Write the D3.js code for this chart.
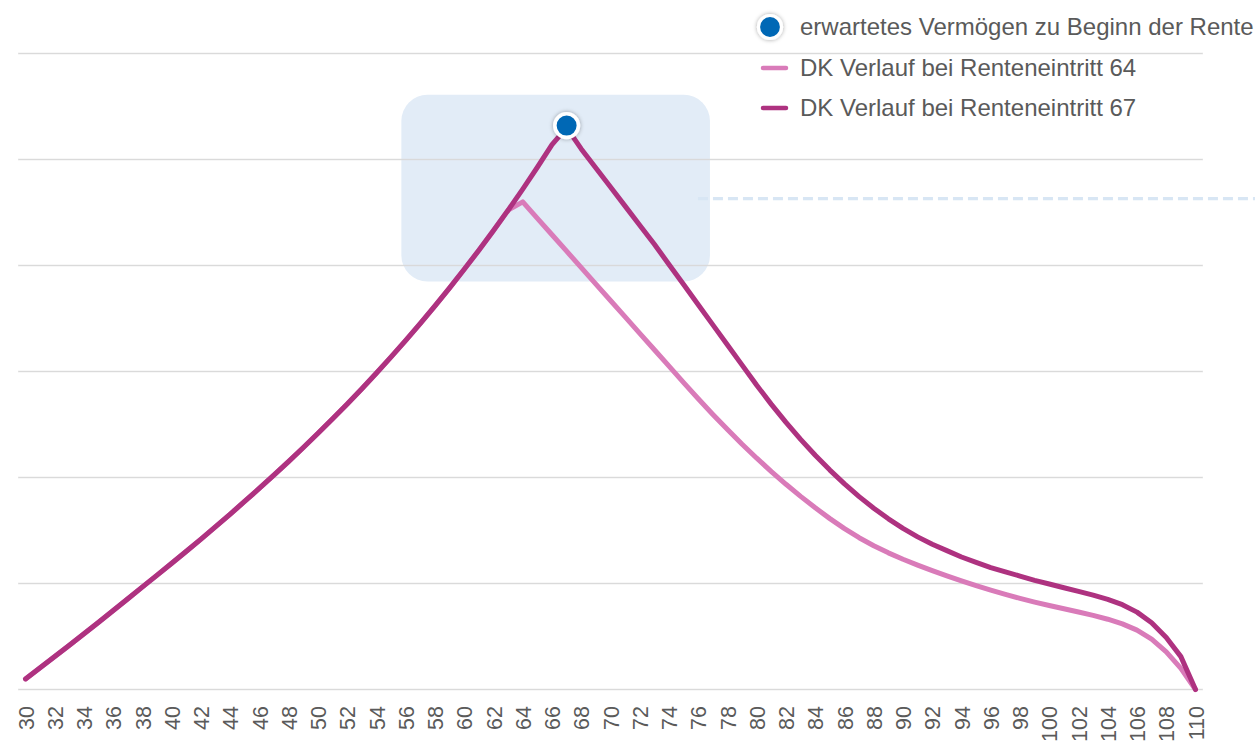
<!DOCTYPE html>
<html>
<head>
<meta charset="utf-8">
<script src="https://cdn.jsdelivr.net/npm/d3@7"></script>
<style>
  html, body { margin: 0; padding: 0; background: #ffffff; }
  svg { display: block; font-family: "Liberation Sans", Arial, sans-serif; }
</style>
</head>
<body>
<svg id="chart" width="1255" height="744"></svg>
<script>
// ---- data ----
const ages = d3.range(30, 111); // 30 .. 110
const xTickLabels = d3.range(30, 111, 2).map(String);
const gridValues = [0, 1, 2, 3, 4, 5, 6];

// DK Verlauf bei Renteneintritt 67 (values in gridline units)
const verlauf67 = [
  0.100, 0.205, 0.311, 0.418, 0.526, 0.635, 0.745, 0.856, 0.968, 1.079, // 30-39
  1.191, 1.304, 1.419, 1.536, 1.655, 1.776, 1.899, 2.024, 2.152, 2.283, // 40-49
  2.417, 2.554, 2.694, 2.838, 2.986, 3.138, 3.294, 3.454, 3.619, 3.789, // 50-59
  3.964, 4.144, 4.330, 4.522, 4.721, 4.927, 5.140, 5.300, 5.100, 4.920, // 60-69
  4.740, 4.560, 4.380, 4.200, 4.010, 3.820, 3.630, 3.440, 3.250, 3.060, // 70-79
  2.870, 2.690, 2.520, 2.360, 2.210, 2.070, 1.940, 1.820, 1.710, 1.610, // 80-89
  1.520, 1.440, 1.370, 1.310, 1.250, 1.200, 1.150, 1.110, 1.070, 1.030, // 90-99
  0.995, 0.960, 0.925, 0.890, 0.850, 0.800, 0.730, 0.630, 0.490, 0.310, // 100-109
  0.000                                                                // 110
];

// DK Verlauf bei Renteneintritt 64
const verlauf64 = [
  0.100, 0.205, 0.311, 0.418, 0.526, 0.635, 0.745, 0.856, 0.968, 1.079, // 30-39
  1.191, 1.304, 1.419, 1.536, 1.655, 1.776, 1.899, 2.024, 2.152, 2.283, // 40-49
  2.417, 2.554, 2.694, 2.838, 2.986, 3.138, 3.294, 3.454, 3.619, 3.789, // 50-59
  3.964, 4.144, 4.330, 4.522, 4.600, 4.445, 4.290, 4.135, 3.980, 3.825, // 60-69
  3.670, 3.515, 3.360, 3.205, 3.050, 2.895, 2.743, 2.595, 2.452, 2.314, // 70-79
  2.182, 2.056, 1.936, 1.822, 1.714, 1.612, 1.518, 1.432, 1.356, 1.289, // 80-89
  1.229, 1.174, 1.122, 1.072, 1.024, 0.979, 0.937, 0.897, 0.860, 0.825, // 90-99
  0.793, 0.762, 0.731, 0.699, 0.663, 0.619, 0.560, 0.475, 0.355, 0.200, // 100-109
  0.000                                                                // 110
];

// expected wealth at start of retirement (peak of 67 curve)
const markerAge = [67];
const markerValue = [5.32];

// highlight annotation box, in data units
const highlightAges = [55.7, 76.8];
const highlightValues = [3.85, 5.61];
const dashValue = [4.63];

const legendLabels = [
  "erwartetes Vermögen zu Beginn der Rente",
  "DK Verlauf bei Renteneintritt 64",
  "DK Verlauf bei Renteneintritt 67"
];

// ---- styles ----
const colorDark = "#ae3280";
const colorLight = "#d97bb9";
const colorDot = "#0068b5";
const colorGrid = "#d9d9d9";
const colorText = "#5a5a5a";
const colorBox = "#e2ecf7";

// ---- scales ----
const svg = d3.select("#chart");
const x = d3.scaleLinear().domain([30, 110]).range([25.5, 1195.5]);
const y = d3.scaleLinear().domain([0, 6]).range([689.5, 53.5]);

const defs = svg.append("defs");
const f = defs.append("filter").attr("id", "shadow")
  .attr("x", "-50%").attr("y", "-50%").attr("width", "200%").attr("height", "200%");
f.append("feDropShadow").attr("dx", 0).attr("dy", 0).attr("stdDeviation", 2.2)
  .attr("flood-color", "#000").attr("flood-opacity", 0.35);

// highlight box
svg.append("rect")
  .attr("x", x(highlightAges[0]))
  .attr("y", y(highlightValues[1]))
  .attr("width", x(highlightAges[1]) - x(highlightAges[0]))
  .attr("height", y(highlightValues[0]) - y(highlightValues[1]))
  .attr("rx", 26).attr("ry", 26)
  .attr("fill", colorBox);

// dashed connector
svg.append("line")
  .attr("x1", x(highlightAges[1]) - 12).attr("x2", 1262)
  .attr("y1", y(dashValue[0])).attr("y2", y(dashValue[0]))
  .attr("stroke", "#d8e6f4").attr("stroke-width", 3.2)
  .attr("stroke-dasharray", "10 5");

// gridlines
svg.append("g").selectAll("line").data(gridValues).join("line")
  .attr("x1", x(29.5)).attr("x2", x(110.5))
  .attr("y1", d => y(d)).attr("y2", d => y(d))
  .attr("stroke", colorGrid).attr("stroke-width", 1.5)
  .attr("opacity", 0.95);

// x axis labels
const xAxis = d3.axisBottom(x)
  .tickValues(xTickLabels.map(Number))
  .tickFormat(d => String(d))
  .tickSize(0);
const gx = svg.append("g").call(xAxis);
gx.select(".domain").remove();
gx.selectAll(".tick text")
  .attr("x", 0).attr("y", 0)
  .attr("transform", "translate(0,706) rotate(-90)")
  .attr("text-anchor", "end")
  .attr("dy", "0.35em")
  .attr("font-size", 21.5)
  .attr("font-family", "'Liberation Sans', Arial, sans-serif")
  .attr("fill", colorText);

// lines
const line = d3.line()
  .x((d, i) => x(ages[i]))
  .y(d => y(d))
  .curve(d3.curveLinear);

svg.append("path").datum(verlauf64)
  .attr("d", line)
  .attr("fill", "none").attr("stroke", colorLight)
  .attr("stroke-width", 5).attr("stroke-linejoin", "round").attr("stroke-linecap", "round");

svg.append("path").datum(verlauf67)
  .attr("d", line)
  .attr("fill", "none").attr("stroke", colorDark)
  .attr("stroke-width", 5).attr("stroke-linejoin", "round").attr("stroke-linecap", "round");

// marker dot
svg.append("g").selectAll("circle").data(markerAge).join("circle")
  .attr("cx", d => x(d)).attr("cy", (d, i) => y(markerValue[i]))
  .attr("r", 11.8)
  .attr("fill", colorDot).attr("stroke", "#ffffff").attr("stroke-width", 3.6)
  .attr("filter", "url(#shadow)");

// legend
const legend = svg.append("g");
const rowsY = [27, 68, 108];
legend.append("circle")
  .attr("cx", 770).attr("cy", rowsY[0]).attr("r", 11.5)
  .attr("fill", colorDot).attr("stroke", "#ffffff").attr("stroke-width", 3.2)
  .attr("filter", "url(#shadow)");
legend.append("line")
  .attr("x1", 763).attr("x2", 786).attr("y1", rowsY[1]).attr("y2", rowsY[1])
  .attr("stroke", colorLight).attr("stroke-width", 4.5).attr("stroke-linecap", "round");
legend.append("line")
  .attr("x1", 763).attr("x2", 786).attr("y1", rowsY[2]).attr("y2", rowsY[2])
  .attr("stroke", colorDark).attr("stroke-width", 4.5).attr("stroke-linecap", "round");
legend.selectAll("text").data(legendLabels).join("text")
  .attr("x", 800).attr("y", (d, i) => rowsY[i])
  .attr("dy", "0.35em")
  .attr("font-size", 24)
  .attr("fill", colorText)
  .text(d => d);
</script>
</body>
</html>
